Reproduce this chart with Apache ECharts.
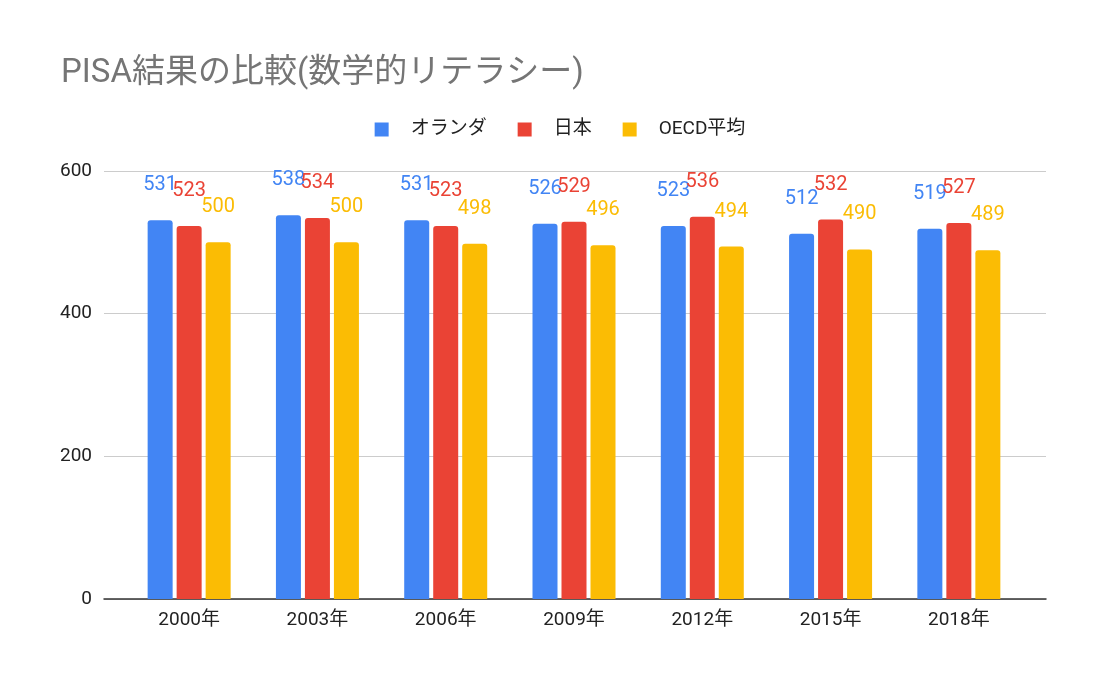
<!DOCTYPE html>
<html>
<head>
<meta charset="utf-8">
<script src="https://cdn.jsdelivr.net/npm/echarts@6/dist/echarts.min.js"></script>
<style>html,body{margin:0;padding:0;background:#fff}#c{width:1120px;height:678px}</style>
</head>
<body>
<div id="c"></div>
<script>
const categories = ['2000年','2003年','2006年','2009年','2012年','2015年','2018年'];
const netherlands = [531, 538, 531, 526, 523, 512, 519];
const japan = [523, 534, 523, 529, 536, 532, 527];
const oecd = [500, 500, 498, 496, 494, 490, 489];
const seriesNames = ['オランダ', '日本', 'OECD平均'];
const colors = ['#4285F4', '#EA4335', '#FBBC04'];
const yTicks = [0, 200, 400, 600];

const FONT = 'Roboto, "Noto Sans CJK JP", sans-serif';
const chart = echarts.init(document.getElementById('c'));
const mk = (name, data, color) => ({
  name, type: 'bar', data, xAxisIndex: 1, yAxisIndex: 1,
  barWidth: 25, barGap: '16%',
  itemStyle: { color, borderRadius: [3, 3, 0, 0] },
  label: { show: true, position: 'top', distance: 25, color, fontSize: 20, fontFamily: FONT }
});
chart.setOption({
  textStyle: { fontFamily: FONT },
  title: { text: 'PISA結果の比較(数学的リテラシー)', left: 56, top: 52,
    textStyle: { fontSize: 33, fontWeight: 'normal', color: '#757575', fontFamily: FONT } },
  legend: { top: 115, left: 'center', itemWidth: 14, itemHeight: 14, itemGap: 31,
    icon: 'rect',
    textStyle: { fontSize: 19, color: '#222', padding: [0, 0, 0, 17] } },
  grid: [
    { left: 104, right: 74, top: 171, bottom: 79 },
    { left: 125, right: 97, top: 171, bottom: 79 }
  ],
  xAxis: [
    { type: 'category', gridIndex: 0, data: categories,
      axisLine: { lineStyle: { color: '#333', width: 1.5 } }, axisTick: { show: false }, axisLabel: { show: false } },
    { type: 'category', gridIndex: 1, data: categories,
      axisLine: { show: false }, axisTick: { show: false },
      axisLabel: { fontSize: 19, color: '#222', margin: 12 } }
  ],
  yAxis: [
    { type: 'value', gridIndex: 0, min: yTicks[0], max: yTicks[yTicks.length - 1], interval: 200,
      axisLabel: { fontSize: 19, color: '#222', margin: 12 },
      splitLine: { lineStyle: { color: '#ccc' } }, axisLine: { show: false }, axisTick: { show: false } },
    { type: 'value', gridIndex: 1, min: 0, max: 600, show: false, splitLine: { show: false } }
  ],
  series: [
    mk(seriesNames[0], netherlands, colors[0]),
    mk(seriesNames[1], japan, colors[1]),
    mk(seriesNames[2], oecd, colors[2])
  ]
});
</script>
</body>
</html>
